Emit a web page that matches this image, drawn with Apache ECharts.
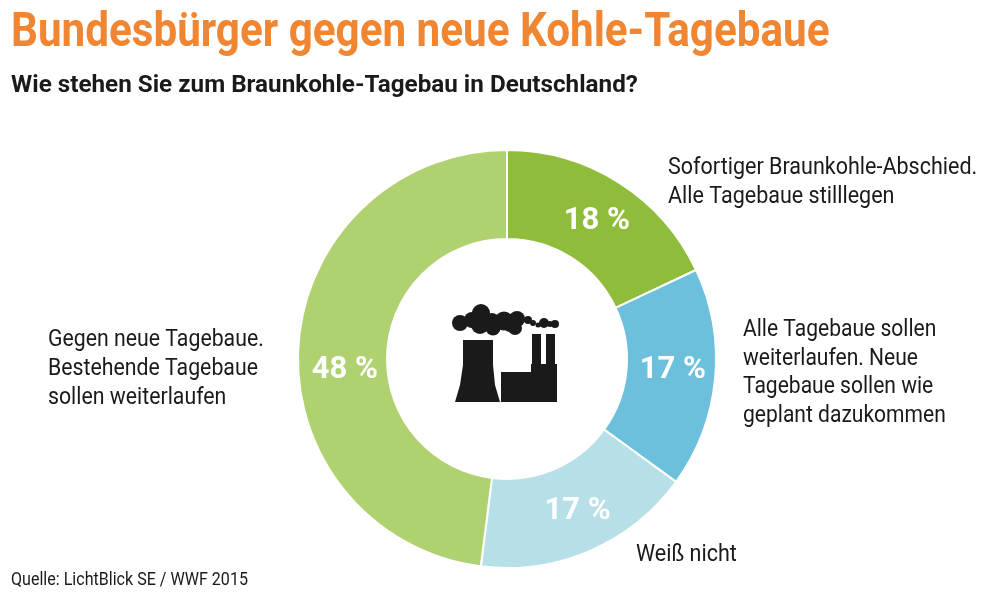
<!DOCTYPE html>
<html>
<head>
  <meta charset="utf-8" />
  <title>Bundesbürger gegen neue Kohle-Tagebaue</title>
  <script src="https://cdn.jsdelivr.net/npm/echarts@6/dist/echarts.min.js"></script>
  <style>html,body{margin:0;padding:0;background:#fff}</style>
</head>
<body>
<div id="main" style="width:1007px;height:592px;"></div>
<script type="text/javascript">
  var titleText = 'Bundesbürger gegen neue Kohle-Tagebaue';
  var subtitleText = 'Wie stehen Sie zum Braunkohle-Tagebau in Deutschland?';
  var sourceText = 'Quelle: LichtBlick SE / WWF 2015';
  var categories = [
    'Sofortiger Braunkohle-Abschied.\nAlle Tagebaue stilllegen',
    'Alle Tagebaue sollen\nweiterlaufen. Neue\nTagebaue sollen wie\ngeplant dazukommen',
    'Weiß nicht',
    'Gegen neue Tagebaue.\nBestehende Tagebaue\nsollen weiterlaufen'
  ];
  var values = [18, 17, 17, 48];
  var colors = ['#8fbd3b', '#6cc0dc', '#b7dfe8', '#b0d170'];

  var fontFamily = '"Roboto", sans-serif';

  // Roboto squeezed horizontally, the condensed cut is not installed
  function text(x, y, str, size, weight, fill, squeeze, lineHeight) {
    return {
      type: 'text', x: x, y: y, scaleX: squeeze, silent: true,
      style: {
        text: str, fill: fill, font: weight + ' ' + size + 'px ' + fontFamily,
        lineHeight: lineHeight, textVerticalAlign: 'top'
      }
    };
  }
  // factory icon
  var clouds = [
    [460, 323, 8], [472, 320, 8], [481, 313, 9], [480, 325, 9], [493, 328, 7.5],
    [492, 320, 7], [504, 321, 9.5], [517, 319, 8], [515, 328, 7], [510, 325, 7],
    [528, 320, 4], [533, 323, 3], [538, 325, 2.5], [544, 323, 5], [550, 324, 3], [555, 324, 4]
  ];
  var iconParts = [
    {
      type: 'polygon', silent: true,
      shape: { points: [[463, 340], [493, 340], [493, 365], [495, 385], [500, 402], [455, 402], [460, 385], [463, 365]] },
      style: { fill: '#1a1a1a' }
    },
    {
      type: 'polygon', silent: true,
      shape: { points: [[501, 372], [531, 372], [531, 364], [532, 364], [532, 334], [541, 334], [541, 364], [546, 364], [546, 334], [555, 334], [555, 364], [557, 364], [557, 402], [501, 402]] },
      style: { fill: '#1a1a1a' }
    }
  ].concat(clouds.map(function (c) {
    return { type: 'circle', silent: true, shape: { cx: c[0], cy: c[1], r: c[2] }, style: { fill: '#1a1a1a' } };
  }));

  // nudges of the percent labels against the pie's own position
  var labelNudge = [[0, 4], [-1, -5], [4, -1], [5, 22]];

  var myChart = echarts.init(document.getElementById('main'));
  var option = {
    backgroundColor: '#fff',
    animation: false,
    series: [{
      type: 'pie',
      center: [507, 359],
      radius: [120, 209],
      startAngle: 90,
      clockwise: true,
      silent: true,
      data: categories.map(function (c, i) {
        return { name: c, value: values[i], itemStyle: { color: colors[i] } };
      }),
      itemStyle: { borderColor: '#fff', borderWidth: 2 },
      label: {
        position: 'inside',
        formatter: function (p) { return p.value + ' %'; },
        color: '#fff',
        fontFamily: fontFamily,
        fontWeight: 'bold',
        fontSize: 31
      },
      labelLayout: function (p) {
        return { dx: labelNudge[p.dataIndex][0], dy: labelNudge[p.dataIndex][1] };
      },
      labelLine: { show: false }
    }],
    graphic: [
      text(11, 10, titleText, 48, 'bold', '#f08532', 0.879, 48),
      text(11, 73, subtitleText, 24, 'bold', '#1a1a1a', 1.01, 26),
      text(668, 154, categories[0], 23, 'normal', '#1a1a1a', 0.936, 29),
      text(743, 316, categories[1], 23, 'normal', '#1a1a1a', 0.915, 28.5),
      text(636, 541, categories[2], 23, 'normal', '#1a1a1a', 0.936, 29),
      text(48, 326, categories[3], 23, 'normal', '#1a1a1a', 0.925, 29),
      text(11, 569, sourceText, 19, 'normal', '#1a1a1a', 0.846, 22)
    ].concat(iconParts)
  };
  option && myChart.setOption(option);
</script>
</body>
</html>
